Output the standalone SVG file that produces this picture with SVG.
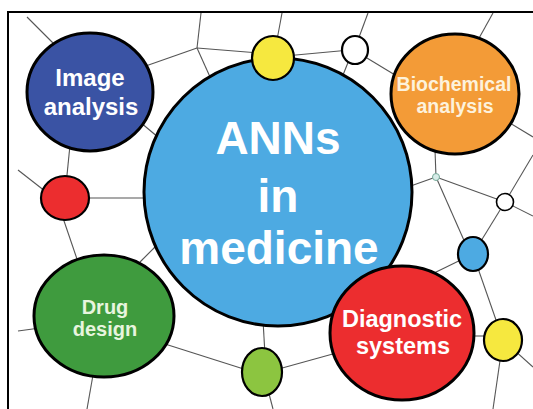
<svg xmlns="http://www.w3.org/2000/svg" width="533" height="409" viewBox="0 0 533 409">
<style>
.c{stroke:#555;stroke-width:1.1;fill:none}
.big{stroke:#000;stroke-width:3}
.sm{stroke:#000;stroke-width:2.2}
.t{font-family:"Liberation Sans",Arial,sans-serif;font-weight:bold;text-anchor:middle}
</style>
<rect x="0" y="0" width="533" height="409" fill="#fff"/>
<rect x="8" y="12" width="540" height="420" fill="none" stroke="#000" stroke-width="2"/>
<g id="connectors">
<line class="c" x1="27" y1="17" x2="60" y2="50"/>
<line class="c" x1="140" y1="68" x2="197" y2="48"/>
<line class="c" x1="197" y1="48" x2="201" y2="13"/>
<line class="c" x1="197" y1="48" x2="260" y2="53"/>
<line class="c" x1="197" y1="48" x2="215" y2="88"/>
<line class="c" x1="140" y1="122" x2="165" y2="143"/>
<line class="c" x1="70" y1="145" x2="66" y2="185"/>
<line class="c" x1="18" y1="170" x2="50" y2="195"/>
<line class="c" x1="65" y1="198" x2="150" y2="198"/>
<line class="c" x1="63" y1="218" x2="78" y2="262"/>
<line class="c" x1="140" y1="262" x2="158" y2="244"/>
<line class="c" x1="18" y1="331" x2="40" y2="328"/>
<line class="c" x1="93" y1="375" x2="87" y2="409"/>
<line class="c" x1="165" y1="344" x2="250" y2="371"/>
<line class="c" x1="263" y1="320" x2="265" y2="355"/>
<line class="c" x1="275" y1="370" x2="340" y2="352"/>
<line class="c" x1="268" y1="390" x2="273" y2="409"/>
<line class="c" x1="277" y1="40" x2="282" y2="13"/>
<line class="c" x1="285" y1="56" x2="350" y2="50"/>
<line class="c" x1="349" y1="60" x2="341" y2="80"/>
<line class="c" x1="368" y1="13" x2="358" y2="40"/>
<line class="c" x1="362" y1="55" x2="400" y2="78"/>
<line class="c" x1="478" y1="40" x2="493" y2="13"/>
<line class="c" x1="505" y1="120" x2="533" y2="137"/>
<line class="c" x1="435" y1="150" x2="436" y2="177"/>
<line class="c" x1="436" y1="177" x2="405" y2="188"/>
<line class="c" x1="436" y1="177" x2="505" y2="202"/>
<line class="c" x1="436" y1="177" x2="470" y2="254"/>
<line class="c" x1="505" y1="202" x2="533" y2="155"/>
<line class="c" x1="505" y1="202" x2="533" y2="216"/>
<line class="c" x1="505" y1="202" x2="473" y2="254"/>
<line class="c" x1="473" y1="254" x2="430" y2="275"/>
<line class="c" x1="473" y1="254" x2="503" y2="340"/>
<line class="c" x1="470" y1="336" x2="490" y2="336"/>
<line class="c" x1="503" y1="340" x2="533" y2="367"/>
<line class="c" x1="503" y1="340" x2="493" y2="409"/>
</g>
<g id="image-analysis">
<ellipse class="big" cx="90" cy="92" rx="63" ry="59" fill="#3a53a4"/>
<text class="t" x="90" y="86" font-size="24" fill="#fff">Image</text>
<text class="t" x="91" y="115" font-size="24" fill="#fff">analysis</text>
</g>
<g id="red-node-left">
<ellipse class="sm" cx="65" cy="198" rx="24" ry="22" fill="#ec2d2f"/>
</g>
<g id="drug-design">
<ellipse class="big" cx="104" cy="316" rx="70" ry="61" fill="#3f9b3e"/>
<text class="t" x="105" y="314" font-size="20" fill="#e8f5df">Drug</text>
<text class="t" x="105" y="336" font-size="20" fill="#e8f5df">design</text>
</g>
<g id="anns-in-medicine">
<circle class="big" cx="278" cy="192" r="134" fill="#4daae2"/>
<text class="t" x="278" y="154" font-size="46" fill="#fff">ANNs</text>
<text class="t" x="278" y="212" font-size="46" fill="#fff">in</text>
<text class="t" x="279" y="264" font-size="46" fill="#fff">medicine</text>
</g>
<g id="yellow-node-top">
<ellipse class="sm" cx="273" cy="58" rx="21" ry="22" fill="#f6e83f"/>
</g>
<g id="white-node-top">
<ellipse class="sm" cx="355" cy="50" rx="13" ry="14" fill="#fff"/>
</g>
<g id="biochemical-analysis">
<ellipse class="big" cx="455" cy="94" rx="64" ry="60" fill="#f39b37"/>
<text class="t" x="454" y="91" font-size="19.5" fill="#fdf2dc">Biochemical</text>
<text class="t" x="455" y="113" font-size="19.5" fill="#fdf2dc">analysis</text>
</g>
<g id="tiny-node">
<circle cx="436" cy="177" r="3.5" fill="#d7ece8" stroke="#7a9" stroke-width="1"/>
</g>
<g id="white-node-right">
<circle class="sm" cx="505" cy="202" r="8.5" fill="#fff" style="stroke-width:1.6"/>
</g>
<g id="blue-node-right">
<ellipse class="sm" cx="473" cy="254" rx="15" ry="17" fill="#4daae2"/>
</g>
<g id="diagnostic-systems">
<ellipse class="big" cx="402" cy="333" rx="72" ry="67" fill="#ec2d2f"/>
<text class="t" x="402" y="327" font-size="23.5" fill="#fff">Diagnostic</text>
<text class="t" x="403" y="354" font-size="23.5" fill="#fff">systems</text>
</g>
<g id="yellow-node-right">
<ellipse class="sm" cx="503" cy="340" rx="19" ry="21" fill="#f6e83f"/>
</g>
<g id="green-node-bottom">
<ellipse class="sm" cx="262" cy="372" rx="20" ry="24" fill="#8cc540"/>
</g>
</svg>
